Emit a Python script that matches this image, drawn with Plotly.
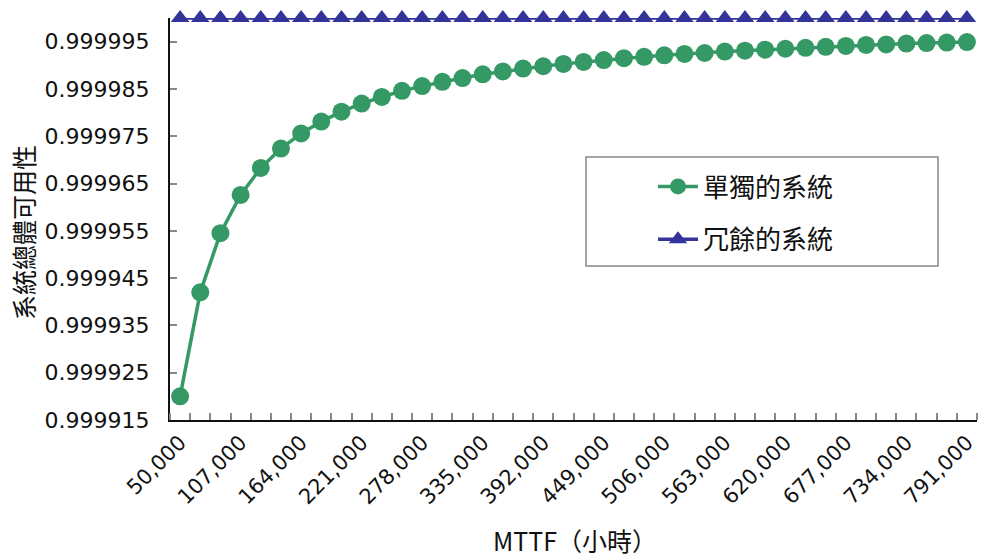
import plotly.graph_objects as go

mttf_hours = [50000 + 19000 * i for i in range(40)]
mttf_labels = [f"{v:,}" for v in mttf_hours]

single_system = [
    0.9999200, 0.9999420, 0.9999545, 0.9999626, 0.9999683, 0.9999724, 0.9999756, 0.9999781,
    0.9999802, 0.9999819, 0.9999833, 0.9999846, 0.9999856, 0.9999865, 0.9999873, 0.9999881,
    0.9999887, 0.9999893, 0.9999898, 0.9999903, 0.9999907, 0.9999911, 0.9999915, 0.9999918,
    0.9999921, 0.9999924, 0.9999926, 0.9999929, 0.9999931, 0.9999933, 0.9999935, 0.9999937,
    0.9999939, 0.9999941, 0.9999943, 0.9999944, 0.9999946, 0.9999947, 0.9999948, 0.9999949,
]
redundant_system = [0.99999999] * 40

y_ticks = [0.999915 + 0.00001 * k for k in range(9)]
y_tick_labels = [f"{v:.6f}" for v in y_ticks]

series_names = ["單獨的系統", "冗餘的系統"]
x_title = "MTTF（小時）"
y_title = "系統總體可用性"

GREEN = "#359966"
BLUE = "#333399"
LATIN = "DejaVu Sans, Liberation Sans, sans-serif"
CJK = "Noto Sans CJK TC, DejaVu Sans, sans-serif"

idx = list(range(len(mttf_hours)))

fig = go.Figure()
fig.add_trace(go.Scatter(
    x=idx, y=single_system, name=series_names[0], mode="lines+markers",
    line=dict(color=GREEN, width=3.5),
    marker=dict(symbol="circle", size=18, color=GREEN),
    cliponaxis=False, legendgroup="a",
))
fig.add_trace(go.Scatter(
    x=idx, y=redundant_system, name=series_names[1], mode="lines+markers",
    line=dict(color=BLUE, width=3.5),
    marker=dict(symbol="triangle-up", size=16, color=BLUE),
    cliponaxis=False, legendgroup="b",
))

fig.update_layout(
    width=984, height=560,
    margin=dict(l=170, r=7, t=18, b=140),
    plot_bgcolor="white", paper_bgcolor="white",
    font=dict(family=LATIN, size=22, color="#111111"),
    showlegend=True,
    legend=dict(
        x=(653 - 170) / 807, y=(420 - 163) / 402, xanchor="left", yanchor="top",
        bgcolor="rgba(0,0,0,0)", borderwidth=0,
        font=dict(family=CJK, size=26, color="#111111"),
        tracegroupgap=16, traceorder="grouped",
        itemwidth=40,
    ),
    xaxis=dict(
        range=[-0.5, len(idx) - 0.5],
        tickvals=idx[::3], ticktext=mttf_labels[::3],
        tickangle=-45, ticks="",
        showline=True, linecolor="#111111", linewidth=2,
        showgrid=False, zeroline=False,
        tickfont=dict(family=LATIN, size=21, color="#111111"),
        minor=dict(ticks="inside", tick0=0.5, dtick=1, ticklen=7, tickcolor="#888888", tickwidth=1.5, showgrid=False),
        automargin=False,
    ),
    yaxis=dict(
        range=[0.999915, 1.0],
        tickvals=y_ticks, ticktext=y_tick_labels,
        ticks="inside", ticklen=7, tickcolor="#888888", tickwidth=1.5,
        showline=True, linecolor="#111111", linewidth=2,
        showgrid=False, zeroline=False,
        tickfont=dict(family=LATIN, size=22, color="#111111"),
        ticklabelstandoff=14,
        automargin=False,
    ),
    shapes=[dict(
        type="rect", xref="paper", yref="paper",
        x0=(586 - 170) / 807, x1=(938 - 170) / 807,
        y0=(420 - 266) / 402, y1=(420 - 157) / 402,
        line=dict(color="#888888", width=1.5), fillcolor="white", layer="below",
    )],
    annotations=[
        dict(text=x_title, xref="paper", yref="paper", x=(575 - 170) / 807, y=-(540 - 420) / 402,
             xanchor="center", yanchor="middle", showarrow=False,
             font=dict(family=CJK, size=25, color="#111111")),
        dict(text=y_title, xref="paper", yref="paper", x=-(170 - 23) / 807, y=(420 - 233) / 402,
             xanchor="center", yanchor="middle", showarrow=False, textangle=-90,
             font=dict(family=CJK, size=25, color="#111111")),
    ],
)

fig.write_html("out.html")
